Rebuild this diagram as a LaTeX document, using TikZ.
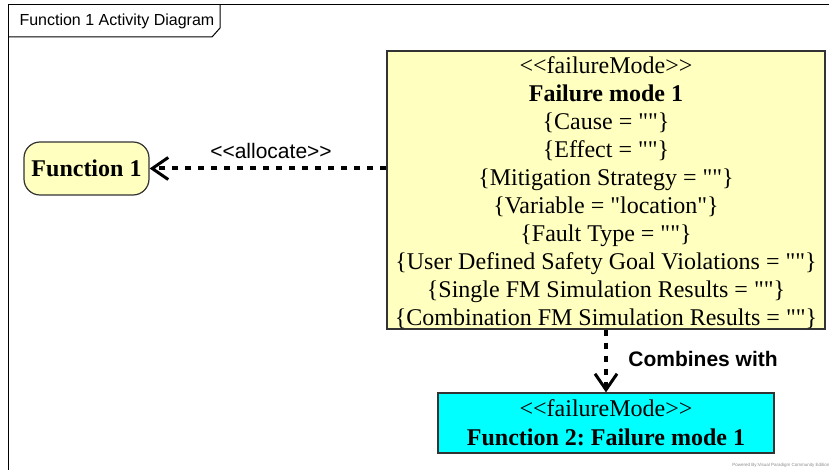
\documentclass[tikz,border=0pt]{standalone}
\usepackage{fontspec}
\setmainfont{Liberation Serif}[Ligatures=TeXOff]
\setsansfont{Liberation Sans}[Ligatures=TeXOff]
\usetikzlibrary{arrows.meta}
\definecolor{noteyellow}{HTML}{FFFFC0}
\definecolor{modecyan}{HTML}{00FFFF}
\frenchspacing
\begin{document}
\begin{tikzpicture}[x=1pt,y=-1pt,
  box/.style={draw=black!80, line width=1.2pt, inner sep=0pt, align=center,
    font=\fontsize{24}{28}\selectfont},
  dep/.style={line width=4pt, dash pattern=on 6pt off 7pt,
    -{Straight Barb[length=16pt,width=22pt,line width=3pt]}},
  framelabel/.style={anchor=west, font=\sffamily\fontsize{16}{18}\selectfont},
]
\useasboundingbox (0,0) rectangle (834,470);
\fill[white] (0,0) rectangle (834,470);

% diagram frame with its name tab
\draw[line width=1pt] (829,5) -- (8,5) -- (8,470);
\draw[line width=1pt] (8,37) -- (212,37) -- (220,28) -- (220,5);
\node[framelabel] (title) at (16,21) {Function 1 Activity Diagram};

% action
\node[box, fill=noteyellow, rounded corners=16pt, minimum width=125pt,
  minimum height=53pt, font=\bfseries\fontsize{24}{28}\selectfont]
  (f1) at (86.5,168.5) {Function 1};

% failure mode with its tagged values
\node[box, fill=noteyellow, minimum width=438pt, minimum height=278pt]
  (fm) at (606,190) {};
\node[align=center, inner sep=0pt, font=\fontsize{24}{28}\selectfont]
  (fmtext) at (606,193) {<<failureMode>>\\
  \textbf{Failure mode 1}\\
  \{Cause = ""\}\\
  \{Effect = ""\}\\
  \{Mitigation Strategy = ""\}\\
  \{Variable = "location"\}\\
  \{Fault Type = ""\}\\
  \{User Defined Safety Goal Violations = ""\}\\
  \{Single FM Simulation Results = ""\}\\
  \{Combination FM Simulation Results = ""\}};

% combined failure mode
\node[box, fill=modecyan, minimum width=336pt, minimum height=60pt]
  (f2) at (606,423) {<<failureMode>>\\[1pt]
  \textbf{Function 2: Failure mode 1}};

% dependencies
\draw[dep] (fm.west |- f1.east) -- (f1.east);
\node[font=\sffamily\fontsize{21}{24}\selectfont] (alloc) at (271,151)
  {<<allocate>>};

\draw[dep] (fm.south) -- (f2.north);
\node[font=\sffamily\bfseries\fontsize{21}{24}\selectfont] (comb) at (703,359)
  {Combines with};

\node[anchor=east, text=black!45, font=\sffamily\fontsize{4.5}{5}\selectfont]
  (wm) at (833,465) {Powered By:Visual Paradigm Community Edition};
\end{tikzpicture}
\end{document}
